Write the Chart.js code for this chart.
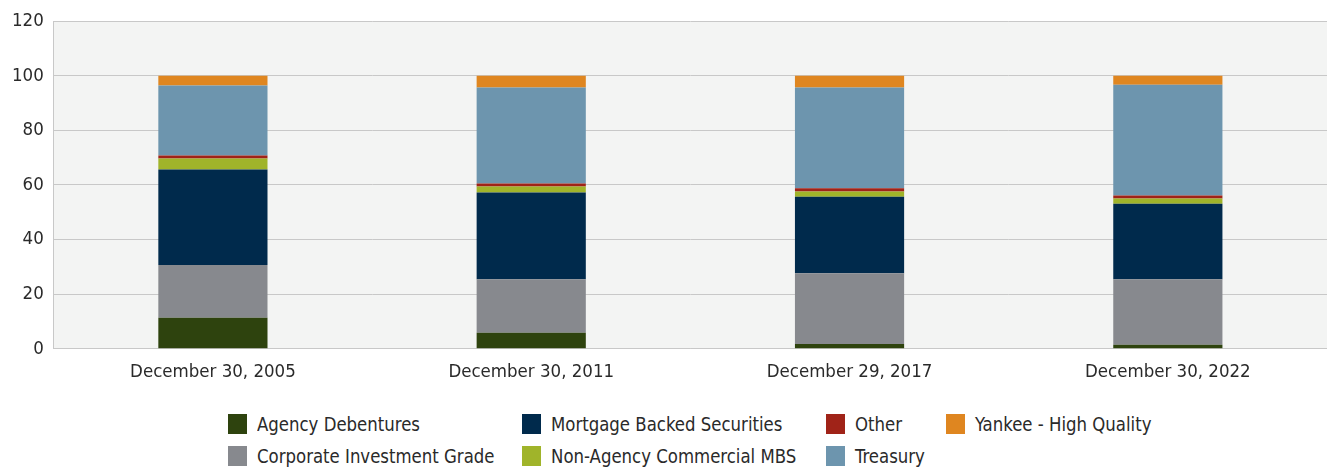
<!DOCTYPE html>
<html>
<head>
<meta charset="utf-8">
<script src="https://cdn.jsdelivr.net/npm/chart.js@4/dist/chart.umd.min.js"></script>
<style>
  body { margin: 0; background: #fff; }
  #wrap { position: relative; width: 1327px; height: 470px; }
  #chartBox { position: absolute; left: 0; top: 0; width: 1327px; height: 395px; }
  #legend {
    position: absolute; left: 228px; top: 414px;
    display: grid; grid-auto-flow: column;
    grid-template-rows: 20px 20px;
    grid-template-columns: 294px 304px 120px auto;
    row-gap: 12px;
    font-family: "DejaVu Sans Condensed", "Liberation Sans Narrow", sans-serif;
    font-size: 20px; color: #2a2a2a;
  }
  .item { display: flex; align-items: center; white-space: nowrap; line-height: 20px; }
  .box { width: 19px; height: 20px; margin-right: 10px; flex: none; }
  .txt { display: inline-block; transform: scaleX(0.92); transform-origin: left center; }
</style>
</head>
<body>
<div id="wrap">
  <div id="chartBox"><canvas id="chart"></canvas></div>
  <div id="legend"></div>
</div>
<script>
var labels = ['December 30, 2005', 'December 30, 2011', 'December 29, 2017', 'December 30, 2022'];

var agencyDebentures = [11.4, 5.9, 1.8, 1.5];
var corporateIG = [19.3, 19.6, 25.9, 24.0];
var mortgageBacked = [35.0, 31.7, 28.0, 27.6];
var nonAgencyCMBS = [4.0, 2.2, 1.9, 1.9];
var other = [1.1, 1.1, 1.2, 1.1];
var treasury = [25.6, 35.2, 36.9, 40.6];
var yankeeHQ = [3.6, 4.3, 4.3, 3.3];

var fontFamily = '"DejaVu Sans Condensed", "Liberation Sans Narrow", sans-serif';

// legend order is column-major: Agency, Corp | MBS, NonAg | Other, Treasury | Yankee
var legendOrder = [
    ['Agency Debentures', '#2e430e'],
    ['Corporate Investment Grade', '#87898e'],
    ['Mortgage Backed Securities', '#002a4c'],
    ['Non-Agency Commercial MBS', '#a0b42a'],
    ['Other', '#a02318'],
    ['Treasury', '#6d95ae'],
    ['Yankee - High Quality', '#df8620']
];

var plotBg = {
    id: 'plotBg',
    beforeDraw: function(chart) {
        var a = chart.chartArea, c = chart.ctx;
        c.save();
        c.fillStyle = '#f3f4f3';
        c.fillRect(a.left, a.top, a.right - a.left, a.bottom - a.top);
        c.restore();
    }
};

var config = {
    type: 'bar',
    data: {
        labels: labels,
        datasets: [
            { label: 'Agency Debentures', data: agencyDebentures, backgroundColor: '#2e430e' },
            { label: 'Corporate Investment Grade', data: corporateIG, backgroundColor: '#87898e' },
            { label: 'Mortgage Backed Securities', data: mortgageBacked, backgroundColor: '#002a4c' },
            { label: 'Non-Agency Commercial MBS', data: nonAgencyCMBS, backgroundColor: '#a0b42a' },
            { label: 'Other', data: other, backgroundColor: '#a02318' },
            { label: 'Treasury', data: treasury, backgroundColor: '#6d95ae' },
            { label: 'Yankee - High Quality', data: yankeeHQ, backgroundColor: '#df8620' }
        ]
    },
    options: {
        responsive: true,
        maintainAspectRatio: false,
        animation: false,
        layout: { padding: { top: 12, right: 0, left: 2, bottom: 0 } },
        datasets: { bar: { categoryPercentage: 1, barPercentage: 0.343, borderWidth: 0 } },
        plugins: {
            legend: { display: false },
            tooltip: { enabled: false }
        },
        scales: {
            x: {
                stacked: true,
                grid: { display: false, drawTicks: false },
                border: { display: true, color: '#c8c8c8', width: 1 },
                ticks: { color: '#2a2a2a', padding: 12, font: { family: fontFamily, size: 18.5 } }
            },
            y: {
                stacked: true,
                min: 0,
                max: 120,
                grid: { color: '#c8c8c8', drawTicks: false },
                border: { display: true, color: '#c8c8c8', width: 1 },
                ticks: { stepSize: 20, color: '#2a2a2a', padding: 10, font: { family: fontFamily, size: 18.5 } }
            }
        }
    },
    plugins: [plotBg]
};

var ctx = document.getElementById('chart');
var myChart = new Chart(ctx, config);

var legendEl = document.getElementById('legend');
legendOrder.forEach(function(item) {
    var d = document.createElement('div');
    d.className = 'item';
    d.innerHTML = '<span class="box" style="background:' + item[1] + '"></span><span class="txt">' + item[0] + '</span>';
    legendEl.appendChild(d);
});
</script>
</body>
</html>
